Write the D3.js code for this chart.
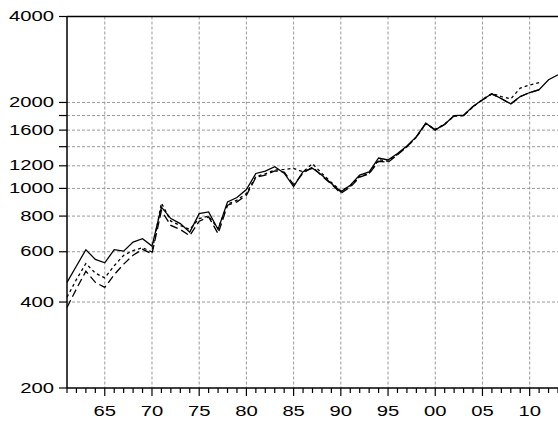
<!DOCTYPE html>
<html>
<head>
<meta charset="utf-8">
<script src="https://cdn.jsdelivr.net/npm/d3@7"></script>
<style>
  body { margin: 0; background: #fff; }
  svg text { font-family: "Liberation Sans", Arial, sans-serif; font-size: 15px; fill: #000; }
</style>
</head>
<body>
<svg id="chart" width="558" height="423"></svg>
<script>
// years 1961..2013
const years = d3.range(1961, 2014);

const actual = [469, 535, 610, 564, 549, 610, 603, 649, 667, 628,
  860, 784, 753, 703, 816, 827, 718, 897, 929, 991,
  1128, 1149, 1191, 1131, 1015, 1145, 1176, 1113, 1041, 973,
  1026, 1113, 1143, 1278, 1258, 1326, 1408, 1518, 1691, 1603,
  1677, 1799, 1805, 1935, 2043, 2145, 2064, 1978, 2098, 2167,
  2216, 2402, 2498];

// short dashed, 1961..2011
const fitShort = [416, 480, 546, 505, 486, 536, 583, 606, 620, 599,
  889, 768, 742, 718, 784, 800, 723, 880, 910, 960,
  1100, 1125, 1160, 1165, 1176, 1143, 1221, 1128, 1050, 980,
  1020, 1100, 1130, 1260, 1245, 1315, 1400, 1510, 1685, 1610,
  1680, 1790, 1800, 1930, 2050, 2150, 2098, 2060, 2246, 2303,
  2347];

// long dashed, 1961..2011
const fitLong = [383, 445, 513, 469, 450, 499, 543, 583, 612, 590,
  836, 742, 718, 683, 768, 795, 694, 873, 897, 946,
  1093, 1113, 1152, 1140, 1030, 1130, 1190, 1105, 1035, 962,
  1010, 1095, 1125, 1245, 1235, 1310, 1400, 1515, 1690, 1600,
  1675, 1795, 1800, 1935, 2040, 2140, 2060, 1975, 2095, 2165,
  2215];

const yTicks = [200, 400, 600, 800, 1000, 1200, 1400, 1600, 1800, 2000, 4000];
const yLabels = [200, 400, 600, 800, 1000, 1200, 1600, 2000, 4000];
const yGrid = [400, 600, 800, 1000, 1200, 1400, 1600, 1800, 2000];
const xMajor = [1965, 1970, 1975, 1980, 1985, 1990, 1995, 2000, 2005, 2010];

const mLeft = 67, mRight = 558, mTop = 16.5, mBottom = 388;

const x = d3.scaleLinear().domain([1961, 2013]).range([mLeft, mRight]);
const y = d3.scaleLog().domain([200, 4000]).range([mBottom, mTop]);

const svg = d3.select('#chart');

// grid
svg.append('g').selectAll('line').data(yGrid).enter().append('line')
  .attr('x1', mLeft).attr('x2', mRight)
  .attr('y1', d => y(d)).attr('y2', d => y(d))
  .attr('stroke', '#999').attr('stroke-dasharray', '3,2');

svg.append('g').selectAll('line').data(xMajor).enter().append('line')
  .attr('x1', d => x(d)).attr('x2', d => x(d))
  .attr('y1', mTop).attr('y2', mBottom)
  .attr('stroke', '#999').attr('stroke-dasharray', '3,2');

// frame
svg.append('line').attr('x1', mLeft).attr('x2', mRight).attr('y1', mTop).attr('y2', mTop)
  .attr('stroke', '#000').attr('stroke-width', 1.5);
svg.append('line').attr('x1', mLeft).attr('x2', mLeft).attr('y1', mTop).attr('y2', mBottom)
  .attr('stroke', '#000').attr('stroke-width', 1.5);
svg.append('line').attr('x1', mLeft).attr('x2', mRight).attr('y1', mBottom).attr('y2', mBottom)
  .attr('stroke', '#000').attr('stroke-width', 1.5);

// y ticks
svg.append('g').selectAll('line').data(yTicks).enter().append('line')
  .attr('x1', mLeft - 8).attr('x2', mLeft)
  .attr('y1', d => y(d)).attr('y2', d => y(d))
  .attr('stroke', '#000').attr('stroke-width', 1.2);

svg.append('g').selectAll('text').data(yLabels).enter().append('text')
  .attr('text-anchor', 'end')
  .attr('transform', d => 'translate(' + (mLeft - 13) + ',' + (y(d) + 4.5) + ') scale(1.35,1)')
  .text(d => d);

// x ticks
svg.append('g').selectAll('line').data(years).enter().append('line')
  .attr('x1', d => x(d)).attr('x2', d => x(d))
  .attr('y1', mBottom).attr('y2', d => mBottom + (d % 5 === 0 ? 8 : 5))
  .attr('stroke', '#000').attr('stroke-width', 1.2);

svg.append('g').selectAll('text').data(xMajor).enter().append('text')
  .attr('text-anchor', 'middle')
  .attr('transform', d => 'translate(' + x(d) + ',416) scale(1.35,1)')
  .text(d => d3.format('02d')(d % 100));

// series
const line = d3.line().x(d => x(d[0])).y(d => y(d[1]));

function draw(vals, dash) {
  svg.append('path')
    .datum(vals.map((v, i) => [years[i], v]))
    .attr('d', line)
    .attr('fill', 'none')
    .attr('stroke', '#000')
    .attr('stroke-width', 1.3)
    .attr('stroke-dasharray', dash);
}

draw(fitLong, '8,4');
draw(fitShort, '3,3');
draw(actual, null);
</script>
</body>
</html>
